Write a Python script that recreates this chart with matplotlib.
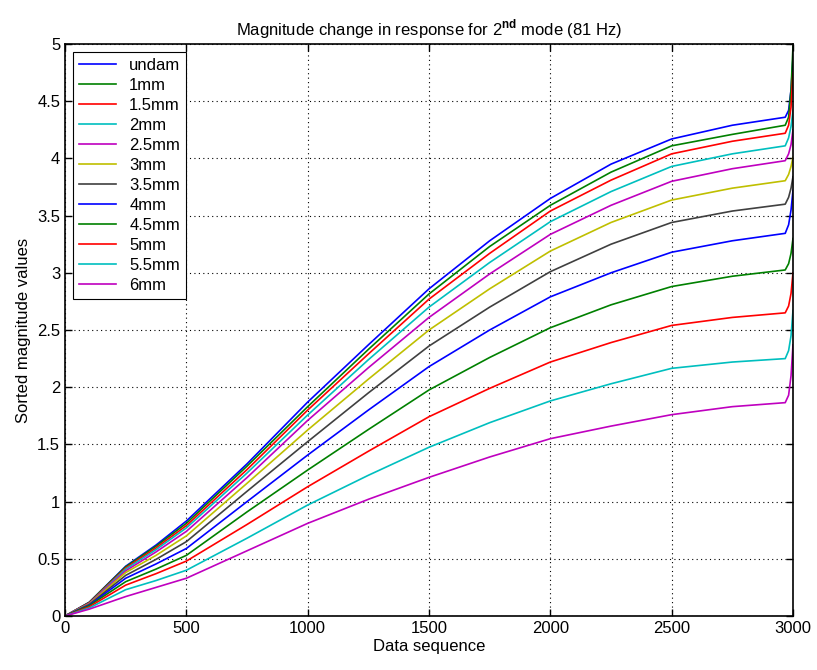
import matplotlib
matplotlib.use("Agg")
import matplotlib.pyplot as plt

plt.rcParams['font.family'] = ['Liberation Sans', 'DejaVu Sans']
plt.rcParams['mathtext.fontset'] = 'custom'
plt.rcParams['mathtext.rm'] = 'Liberation Sans'
plt.rcParams['mathtext.bf'] = 'Liberation Sans:bold'

# sample positions
x = [0, 100, 250, 375, 500, 750, 1000, 1250, 1500, 1750, 2000, 2250, 2500, 2750,
     2968, 2982, 2992, 3000]

labels = ['undam', '1mm', '1.5mm', '2mm', '2.5mm', '3mm', '3.5mm', '4mm',
          '4.5mm', '5mm', '5.5mm', '6mm']

undam = [0, 0.12, 0.435, 0.62, 0.83, 1.33, 1.87, 2.37, 2.86, 3.28, 3.65, 3.95, 4.17, 4.29, 4.36, 4.42, 4.6, 4.88]
mm1   = [0, 0.12, 0.43, 0.61, 0.81, 1.31, 1.83, 2.33, 2.815, 3.23, 3.59, 3.88, 4.11, 4.21, 4.29, 4.36, 4.6, 4.98]
mm15  = [0, 0.115, 0.42, 0.595, 0.79, 1.28, 1.80, 2.29, 2.77, 3.17, 3.54, 3.81, 4.04, 4.15, 4.22, 4.29, 4.45, 4.75]
mm2   = [0, 0.11, 0.41, 0.58, 0.77, 1.25, 1.757, 2.24, 2.70, 3.09, 3.447, 3.71, 3.93, 4.04, 4.11, 4.18, 4.28, 4.42]
mm25  = [0, 0.11, 0.395, 0.56, 0.74, 1.21, 1.71, 2.17, 2.61, 2.99, 3.336, 3.59, 3.80, 3.91, 3.98, 4.04, 4.12, 4.25]
mm3   = [0, 0.105, 0.38, 0.53, 0.70, 1.16, 1.626, 2.07, 2.50, 2.86, 3.19, 3.44, 3.636, 3.74, 3.805, 3.86, 3.93, 4.01]
mm35  = [0, 0.10, 0.355, 0.495, 0.65, 1.09, 1.524, 1.95, 2.36, 2.70, 3.01, 3.25, 3.44, 3.54, 3.60, 3.66, 3.74, 3.84]
mm4   = [0, 0.095, 0.33, 0.455, 0.59, 1.00, 1.407, 1.80, 2.18, 2.50, 2.79, 3.00, 3.18, 3.28, 3.345, 3.42, 3.55, 3.72]
mm45  = [0, 0.09, 0.30, 0.41, 0.53, 0.91, 1.276, 1.63, 1.976, 2.26, 2.52, 2.72, 2.88, 2.97, 3.025, 3.08, 3.17, 3.30]
mm5   = [0, 0.08, 0.27, 0.37, 0.48, 0.80, 1.13, 1.44, 1.742, 1.99, 2.22, 2.39, 2.54, 2.61, 2.65, 2.71, 2.82, 3.00]
mm55  = [0, 0.07, 0.23, 0.31, 0.40, 0.68, 0.97, 1.23, 1.475, 1.69, 1.88, 2.03, 2.165, 2.22, 2.25, 2.32, 2.45, 2.67]
mm6   = [0, 0.06, 0.17, 0.25, 0.33, 0.57, 0.81, 1.02, 1.212, 1.39, 1.55, 1.66, 1.76, 1.83, 1.865, 1.93, 2.10, 2.37]

series = [undam, mm1, mm15, mm2, mm25, mm3, mm35, mm4, mm45, mm5, mm55, mm6]

# old matlab colour order
colors = [(0, 0, 1), (0, 0.5, 0), (1, 0, 0), (0, 0.75, 0.75), (0.75, 0, 0.75),
          (0.75, 0.75, 0), (0.25, 0.25, 0.25)]

fig = plt.figure(figsize=(8.17, 6.70), dpi=100)
ax = fig.add_axes([0.0796, 0.0806, 0.8910, 0.8537])

for i, (s, lab) in enumerate(zip(series, labels)):
    ax.plot(x, s, color=colors[i % len(colors)], linewidth=1.2, label=lab)

ax.set_xlim(0, 3000)
ax.set_ylim(0, 5)
ax.set_xticks(range(0, 3001, 500))
ax.set_yticks([0, 0.5, 1, 1.5, 2, 2.5, 3, 3.5, 4, 4.5, 5])
ax.set_yticklabels(['0', '0.5', '1', '1.5', '2', '2.5', '3', '3.5', '4', '4.5', '5'])
ax.tick_params(direction='in', top=True, right=True, labelsize=12, length=5, width=1)
ax.grid(True, linestyle=(0, (1, 3)), color='black', linewidth=0.8)
for sp in ax.spines.values():
    sp.set_linewidth(1.2)

ax.set_xlabel('Data sequence', fontsize=12, labelpad=2)
ax.set_ylabel('Sorted magnitude values', fontsize=12, labelpad=4)
ax.set_title(r'Magnitude change in response for 2$^{\mathbf{nd}}$ mode (81 Hz)', fontsize=12)

leg = ax.legend(loc='upper left', fontsize=12, handlelength=2.2, labelspacing=0.3,
                fancybox=False, edgecolor='black', framealpha=1, borderpad=0.35)
leg.get_frame().set_linewidth(0.8)

plt.savefig('out.png')
